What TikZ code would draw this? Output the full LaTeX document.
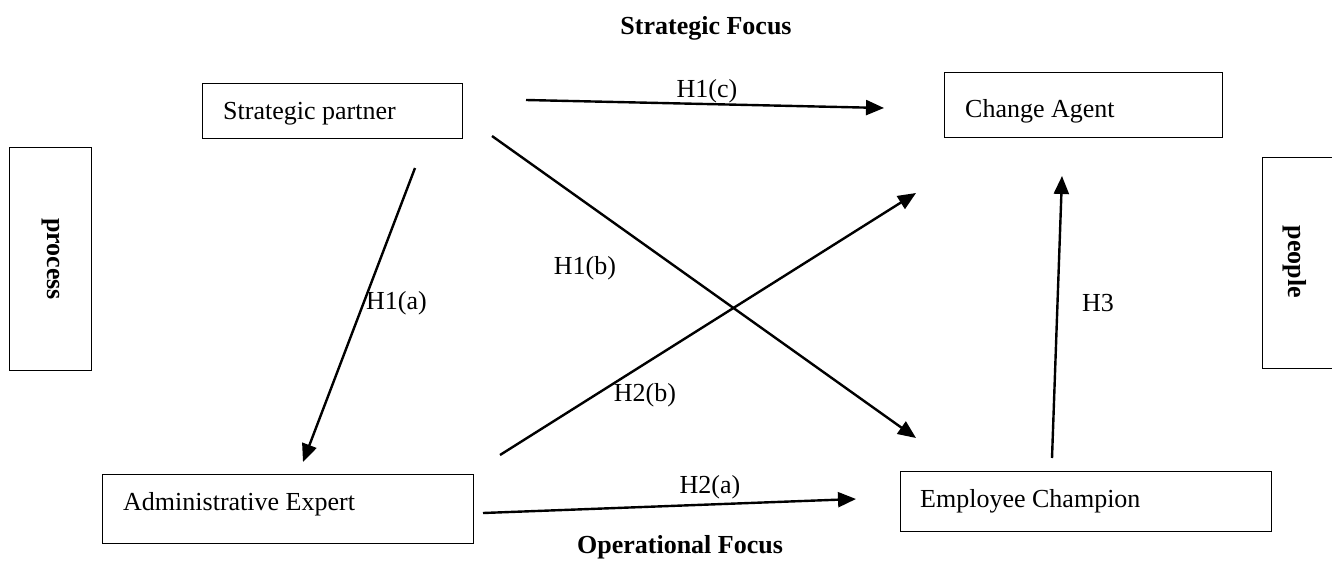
\documentclass[tikz,border=0pt]{standalone}
\usepackage{fontspec}
\setmainfont{Liberation Serif}
\usetikzlibrary{arrows.meta}
\begin{document}
\begin{tikzpicture}[x=1pt,y=-1pt,
  box/.style={draw=black, line width=1.3pt, inner sep=0pt, anchor=north west},
  txt/.style={font=\fontsize{26}{30}\selectfont, inner sep=0pt},
  btxt/.style={font=\fontsize{26}{30}\selectfont\bfseries, inner sep=0pt},
  conn/.style={line width=2.4pt, -{Triangle[length=18pt,width=15pt]}}]
\useasboundingbox (0,0) rectangle (1332,560);
\begin{scope}
\clip (0,0) rectangle (1332,560);
% boxes
\node[box, minimum width=260pt, minimum height=55pt] (sp) at (202,83) {};
\node[txt, anchor=base west] (spt) at (223,119) {Strategic partner};
\node[box, minimum width=278pt, minimum height=65pt] (ca) at (944,72) {};
\node[txt, anchor=base west] (cat) at (965,117) {Change Agent};
\node[box, minimum width=371pt, minimum height=69pt] (ae) at (102,474) {};
\node[txt, anchor=base west] (aet) at (123,510) {Administrative Expert};
\node[box, minimum width=371pt, minimum height=60pt] (ec) at (900,471) {};
\node[txt, anchor=base west] (ect) at (920,507) {Employee Champion};
\node[box, minimum width=82pt, minimum height=223pt] (pr) at (9,147) {};
\node[btxt, rotate=-90] (prt) at (pr.center) {process};
\node[box, minimum width=120pt, minimum height=211pt] (pe) at (1262,157) {};
\node[btxt, rotate=-90] (pet) at (1295,262) {people};
\end{scope}
% headings
\node[btxt, anchor=base] (sf) at (706,34) {Strategic Focus};
\node[btxt] (of) at (680,547) {Operational Focus};
% connector ends
\coordinate (a1) at (415,168); \coordinate (a2) at (303,462);
\coordinate (b1) at (492,136); \coordinate (b2) at (916,438);
\coordinate (c1) at (526,100); \coordinate (c2) at (884,108);
\coordinate (d1) at (500,455); \coordinate (d2) at (916,193);
\coordinate (e1) at (483,513); \coordinate (e2) at (856,499);
\coordinate (f1) at (1052,458); \coordinate (f2) at (1062,176);
\draw[conn] (a1) -- (a2);
\draw[conn] (b1) -- (b2);
\draw[conn] (c1) -- (c2);
\draw[conn] (d1) -- (d2);
\draw[conn] (e1) -- (e2);
\draw[conn] (f1) -- (f2);
% labels
\node[txt, anchor=west] (la) at (366,303) {H1(a)};
\node[txt] (lb) at (585,268) {H1(b)};
\node[txt, anchor=base] (lc) at (707,97) {H1(c)};
\node[txt] (ld) at (645,395) {H2(b)};
\node[txt] (le) at (710,487) {H2(a)};
\node[txt] (lf) at (1098,303) {H3};
\end{tikzpicture}
\end{document}
